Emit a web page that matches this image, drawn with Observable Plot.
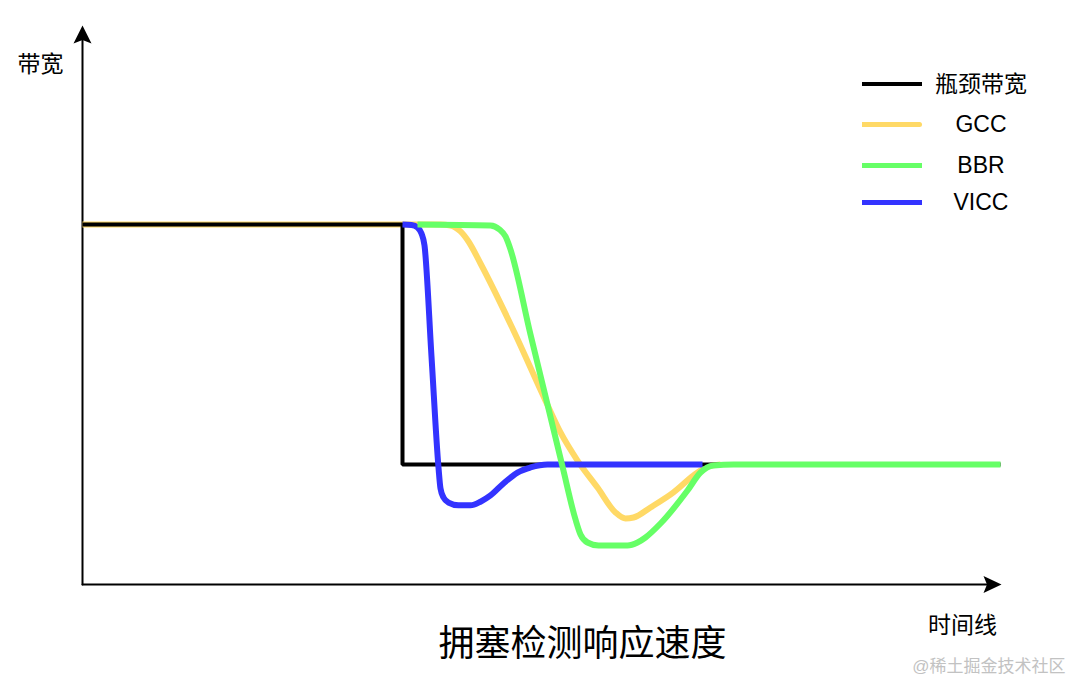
<!DOCTYPE html>
<html>
<head>
<meta charset="utf-8">
<script src="https://cdn.jsdelivr.net/npm/d3@7"></script>
<script src="https://cdn.jsdelivr.net/npm/@observablehq/plot@0.6"></script>
<style>
  html, body { margin: 0; padding: 0; background: #fff; }
  #wrap { position: relative; width: 1076px; height: 684px; font-family: "Liberation Sans", "Noto Sans CJK SC", sans-serif; }
  #legend { position: absolute; left: 0; top: 0; }
  .row { position: absolute; left: 862px; width: 200px; height: 0; }
  .sw { position: absolute; left: 0; width: 60px; }
  .lb { position: absolute; left: 69px; width: 100px; text-align: center; font-size: 23px; line-height: 30px; top: -15px; color: #000; }
</style>
</head>
<body>
<div id="wrap"><div id="legend"></div></div>
<script>
// ---- data ----
const series = ["瓶颈带宽", "GCC", "BBR", "VICC"];
const colors = ["#000000", "#FFD966", "#66FF66", "#3333FF"];

// bottleneck bandwidth (time, bandwidth)
const bottleneckT  = [0, 32, 32, 91.8];
const bottleneckBW = [30, 30, 10, 10];

// GCC
const gccT  = [0, 35.8, 36.8, 37.8, 38.6, 39.8, 43.1, 46.2, 47.8, 49.5, 51.5, 53.3, 54.3, 55.1, 56.8, 59.1, 61.1, 62.5, 63.8];
const gccBW = [30, 30, 29.92, 29.42, 28.58, 26.75, 21.17, 15.5, 12.67, 10.33, 8.08, 6.0, 5.5, 5.58, 6.42, 7.67, 9.08, 9.83, 10];

// BBR
const bbrT  = [33.5, 40.8, 41.7, 42.3, 42.7, 44.8, 46.5, 48.0, 49.3, 49.8, 50.5, 51.6, 54.5, 55.5, 56.3, 57.8, 60.5, 61.8, 63.1, 65.1, 91.8];
const bbrBW = [30, 29.92, 29.58, 29.0, 28.17, 20.83, 15.0, 9.83, 5.42, 4.17, 3.5, 3.25, 3.25, 3.5, 3.92, 5.08, 7.83, 9.33, 9.92, 10, 10];

// VICC
const viccT  = [32.0, 32.9, 33.5, 33.9, 34.2, 34.9, 35.6, 35.8, 36.1, 36.6, 37.6, 38.8, 39.8, 40.8, 42.1, 43.5, 44.8, 46.5, 62.0];
const viccBW = [30, 29.96, 29.75, 29.25, 28.25, 19.0, 9.75, 8.0, 7.25, 6.83, 6.6, 6.6, 6.9, 7.42, 8.42, 9.33, 9.75, 10, 10];

const T_MAX = 92;
const BW_MAX = 46.58;

// ---- build tables ----
const toRows = (t, bw) => t.map((v, i) => ({t: v, bw: bw[i]}));
const bottleneck = toRows(bottleneckT, bottleneckBW);
const gcc = toRows(gccT, gccBW);
const bbr = toRows(bbrT, bbrBW);
const vicc = toRows(viccT, viccBW);

// arrowhead symbols (tip at the anchor)
const arrowUp = {
  draw(ctx) {
    ctx.moveTo(0, 0); ctx.lineTo(9, 18); ctx.lineTo(0, 14.5); ctx.lineTo(-9, 18); ctx.closePath();
  }
};
const arrowRight = {
  draw(ctx) {
    ctx.moveTo(0, 0); ctx.lineTo(-18, 8.5); ctx.lineTo(-14.5, 0); ctx.lineTo(-18, -8.5); ctx.closePath();
  }
};

const font = '"Liberation Sans", "Noto Sans CJK SC", sans-serif';

const chart = Plot.plot({
  width: 1076,
  height: 684,
  marginLeft: 82,
  marginRight: 74,
  marginTop: 25,
  marginBottom: 100,
  style: {fontFamily: font, background: "white", overflow: "visible"},
  x: {domain: [0, T_MAX], axis: null},
  y: {domain: [0, BW_MAX], axis: null},
  marks: [
    // axes
    Plot.line([[0, 0], [0, BW_MAX - 1]], {x: d => d[0], y: d => d[1], stroke: "black", strokeWidth: 2}),
    Plot.line([[0, 0], [T_MAX - 1, 0]], {x: d => d[0], y: d => d[1], stroke: "black", strokeWidth: 2}),
    Plot.dot([[0, BW_MAX]], {x: d => d[0], y: d => d[1], symbol: arrowUp, r: 10, fill: "black", stroke: "none"}),
    Plot.dot([[T_MAX - 0.1, 0]], {x: d => d[0], y: d => d[1], symbol: arrowRight, r: 10, fill: "black", stroke: "none"}),
    // series
    Plot.line(gcc, {x: "t", y: "bw", stroke: colors[1], strokeWidth: 6, curve: "monotone-x", strokeLinecap: "butt"}),
    Plot.line(bottleneck, {x: "t", y: "bw", stroke: colors[0], strokeWidth: 4, curve: "linear", strokeLinejoin: "miter", strokeLinecap: "butt"}),
    Plot.line(vicc, {x: "t", y: "bw", stroke: colors[3], strokeWidth: 6, curve: "monotone-x", strokeLinecap: "butt"}),
    Plot.line(bbr, {x: "t", y: "bw", stroke: colors[2], strokeWidth: 6, curve: "monotone-x", strokeLinecap: "butt"}),
    // labels
    Plot.text(["带宽"], {text: d => d, frameAnchor: "top-left", dx: -42, dy: 39, fontSize: 23, fill: "black", textAnchor: "middle", lineAnchor: "middle"}),
    Plot.text(["时间线"], {text: d => d, frameAnchor: "bottom-right", dx: -40, dy: 41, fontSize: 23, fill: "black", textAnchor: "middle", lineAnchor: "middle"}),
    Plot.text(["拥塞检测响应速度"], {text: d => d, frameAnchor: "bottom", dx: 40, dy: 60, fontSize: 36, fill: "black", textAnchor: "middle", lineAnchor: "middle"}),
    Plot.text(["@稀土掘金技术社区"], {text: d => d, frameAnchor: "bottom-right", dx: 63, dy: 82, fontSize: 17, fill: "#c2c2c2", textAnchor: "end", lineAnchor: "middle"})
  ]
});

const wrap = document.getElementById("wrap");
wrap.insertBefore(chart, wrap.firstChild);

// legend (HTML overlay)
const legendWidths = [4, 5, 5, 5];
const legendTops = [84, 124, 165, 202];
const legend = d3.select("#legend");
series.forEach((name, i) => {
  const row = legend.append("div").attr("class", "row").style("top", legendTops[i] + "px");
  row.append("div").attr("class", "sw")
    .style("background", colors[i])
    .style("height", legendWidths[i] + "px")
    .style("top", (-legendWidths[i] / 2) + "px")
    .style("border-radius", i === 1 ? "0 3px 3px 0" : "0");
  row.append("div").attr("class", "lb").text(name);
});
</script>
</body>
</html>
